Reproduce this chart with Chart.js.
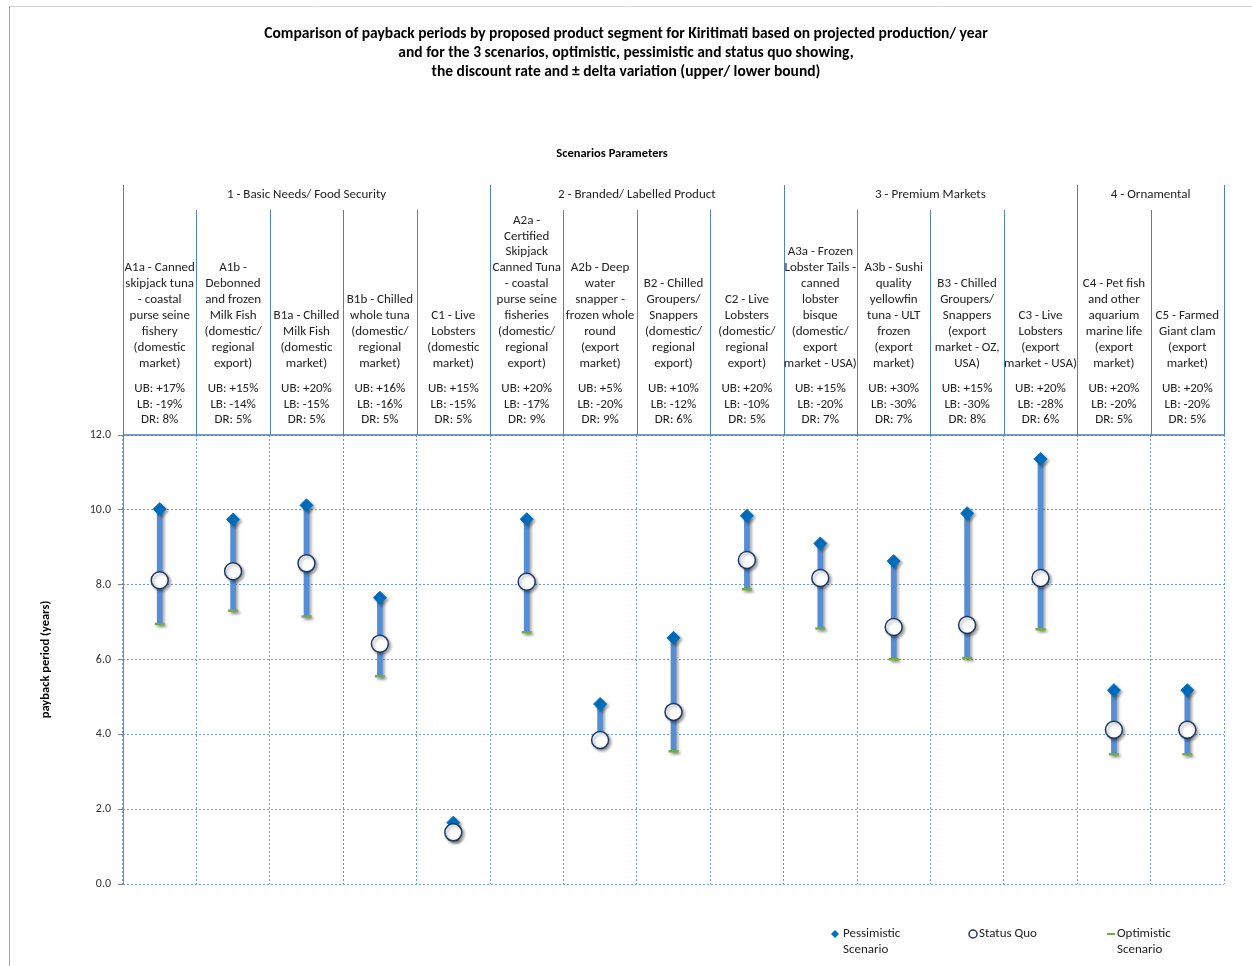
<!DOCTYPE html>
<html>
<head>
<meta charset="utf-8">
<title>Payback periods by product segment - Kiritimati</title>
<script src="https://cdn.jsdelivr.net/npm/chart.js@4.4.1/dist/chart.umd.min.js"></script>
<style>
  html, body { margin: 0; padding: 0; background: #fff; }
  canvas { display: block; }
</style>
</head>
<body>
<canvas id="myChart" width="1252" height="966"></canvas>
<script>
(() => {
  'use strict'

  // product segments (x categories), grouped by scenario family
  const categories = ['A1a', 'A1b', 'B1a', 'B1b', 'C1', 'A2a', 'A2b', 'B2', 'C2', 'A3a', 'A3b', 'B3', 'C3', 'C4', 'C5']
  const categoryText = [
    ['A1a - Canned', 'skipjack tuna', '- coastal', 'purse seine', 'fishery', '(domestic', 'market)'],
    ['A1b -', 'Debonned', 'and frozen', 'Milk Fish', '(domestic/', 'regional', 'export)'],
    ['B1a - Chilled', 'Milk Fish', '(domestic', 'market)'],
    ['B1b - Chilled', 'whole tuna', '(domestic/', 'regional', 'market)'],
    ['C1 - Live', 'Lobsters', '(domestic', 'market)'],
    ['A2a -', 'Certified', 'Skipjack', 'Canned Tuna', '- coastal', 'purse seine', 'fisheries', '(domestic/', 'regional', 'export)'],
    ['A2b - Deep', 'water', 'snapper -', 'frozen whole', 'round', '(export', 'market)'],
    ['B2 - Chilled', 'Groupers/', 'Snappers', '(domestic/', 'regional', 'export)'],
    ['C2 - Live', 'Lobsters', '(domestic/', 'regional', 'export)'],
    ['A3a - Frozen', 'Lobster Tails -', 'canned', 'lobster', 'bisque', '(domestic/', 'export', 'market - USA)'],
    ['A3b - Sushi', 'quality', 'yellowfin', 'tuna - ULT', 'frozen', '(export', 'market)'],
    ['B3 - Chilled', 'Groupers/', 'Snappers', '(export', 'market - OZ,', 'USA)'],
    ['C3 - Live', 'Lobsters', '(export', 'market - USA)'],
    ['C4 - Pet fish', 'and other', 'aquarium', 'marine life', '(export', 'market)'],
    ['C5 - Farmed', 'Giant clam', '(export', 'market)']
  ]
  const upperBound = ['+17%', '+15%', '+20%', '+16%', '+15%', '+20%', '+5%', '+10%', '+20%', '+15%', '+30%', '+15%', '+20%', '+20%', '+20%']
  const lowerBound = ['-19%', '-14%', '-15%', '-16%', '-15%', '-17%', '-20%', '-12%', '-10%', '-20%', '-30%', '-30%', '-28%', '-20%', '-20%']
  const discountRate = ['8%', '5%', '5%', '5%', '5%', '9%', '9%', '6%', '5%', '7%', '7%', '8%', '6%', '5%', '5%']

  const groupNames = ['1 - Basic Needs/ Food Security', '2 - Branded/ Labelled Product', '3 - Premium Markets', '4 - Ornamental']
  const groupSizes = [5, 4, 4, 2]

  // payback period in years
  const pessimistic = [10.02, 9.74, 10.12, 7.65, 1.64, 9.75, 4.81, 6.58, 9.84, 9.10, 8.63, 9.91, 11.36, 5.18, 5.18]
  const statusQuo = [8.12, 8.36, 8.57, 6.42, 1.38, 8.08, 3.85, 4.60, 8.66, 8.18, 6.87, 6.92, 8.18, 4.12, 4.12]
  const optimistic = [6.95, 7.30, 7.15, 5.55, 1.19, 6.73, 3.70, 3.55, 7.88, 6.83, 6.01, 6.04, 6.81, 3.47, 3.47]

  const yTicks = [0, 2, 4, 6, 8, 10, 12]

  const FONT = 'Calibri, Carlito, Lato, "Open Sans", sans-serif'
  const LINE_BLUE = '#4F81BD'
  const GRID_BLUE = '#6A9BDB'
  const RANGE_BLUE = '#558ED5'
  const DIAMOND_BLUE = '#0070C0'
  const CIRCLE_EDGE = '#1F3864'
  const DASH_GREEN = '#70AD47'

  // soft drop shadow under markers and range bars
  const shadowPlugin = {
    id: 'markerShadow',
    beforeDatasetsDraw (chart) {
      const { ctx } = chart
      ctx.save()
      ctx.shadowColor = 'rgba(0, 0, 0, 0.35)'
      ctx.shadowBlur = 3
      ctx.shadowOffsetX = 2
      ctx.shadowOffsetY = 2
    },
    afterDatasetsDraw (chart) {
      chart.ctx.restore()
    }
  }

  // parameter table above the plot, axis line, frame and legend
  const headerPlugin = {
    id: 'scenarioHeader',
    beforeDraw (chart) {
      const { ctx, width, height } = chart
      ctx.save()
      ctx.lineWidth = 1
      ctx.strokeStyle = '#d4d4d4'
      ctx.beginPath()
      ctx.moveTo(9, 6.5)
      ctx.lineTo(width, 6.5)
      ctx.stroke()
      ctx.strokeStyle = '#a6a6a6'
      ctx.beginPath()
      ctx.moveTo(9.5, 6)
      ctx.lineTo(9.5, height)
      ctx.stroke()
      ctx.restore()
    },
    afterDraw (chart) {
      const { ctx, chartArea: area, scales: { x } } = chart
      const half = x.width / categories.length / 2
      const edge = i => i < categories.length
        ? x.getPixelForValue(i) - half
        : x.getPixelForValue(i - 1) + half
      const top = area.top

      ctx.save()

      // y axis line
      ctx.strokeStyle = '#868686'
      ctx.lineWidth = 1
      ctx.beginPath()
      ctx.moveTo(Math.round(area.left) + 0.5, top)
      ctx.lineTo(Math.round(area.left) + 0.5, area.bottom + 1)
      ctx.stroke()

      // table caption
      ctx.fillStyle = '#000'
      ctx.textAlign = 'center'
      ctx.textBaseline = 'middle'
      ctx.font = 'bold 12.5px ' + FONT
      ctx.fillText('Scenarios Parameters', area.right / 2, top - 281)

      // category separators
      ctx.strokeStyle = LINE_BLUE
      ctx.lineWidth = 1
      for (let i = 0; i <= categories.length; i++) {
        const px = Math.round(edge(i)) + 0.5
        ctx.beginPath()
        ctx.moveTo(px, top - 225)
        ctx.lineTo(px, top)
        ctx.stroke()
      }

      // group separators and names
      ctx.fillStyle = '#222'
      ctx.font = '13px ' + FONT
      let start = 0
      groupSizes.forEach((n, g) => {
        const a = edge(start)
        const b = edge(start + n)
        ;[a, b].forEach(px => {
          ctx.beginPath()
          ctx.moveTo(Math.round(px) + 0.5, top - 250)
          ctx.lineTo(Math.round(px) + 0.5, top - 225)
          ctx.stroke()
        })
        ctx.fillText(groupNames[g], (a + b) / 2, top - 240)
        start += n
      })

      // header bottom rule
      ctx.lineWidth = 1.6
      ctx.beginPath()
      ctx.moveTo(area.left, top)
      ctx.lineTo(area.right, top)
      ctx.stroke()

      // segment names and scenario parameters
      const lh = 15.9
      categories.forEach((c, i) => {
        const cx = x.getPixelForValue(i)
        const lines = categoryText[i]
        lines.forEach((t, k) => {
          ctx.fillText(t, cx, top - 71.5 - (lines.length - 1 - k) * lh)
        })
        ctx.fillText('UB: ' + upperBound[i], cx, top - 46.5)
        ctx.fillText('LB: ' + lowerBound[i], cx, top - 30.5)
        ctx.fillText('DR: ' + discountRate[i], cx, top - 15)
      })

      // legend
      const ly = area.bottom + 50
      ctx.textAlign = 'left'
      ctx.font = '13px ' + FONT

      ctx.fillStyle = DIAMOND_BLUE
      ctx.beginPath()
      ctx.moveTo(835, ly - 4)
      ctx.lineTo(839, ly)
      ctx.lineTo(835, ly + 4)
      ctx.lineTo(831, ly)
      ctx.closePath()
      ctx.fill()
      ctx.fillStyle = '#222'
      ctx.fillText('Pessimistic', 843, ly)
      ctx.fillText('Scenario', 843, ly + 16)

      ctx.strokeStyle = CIRCLE_EDGE
      ctx.lineWidth = 1.5
      ctx.beginPath()
      ctx.arc(973, ly, 4, 0, Math.PI * 2)
      ctx.stroke()
      ctx.fillText('Status Quo', 979, ly)

      ctx.strokeStyle = DASH_GREEN
      ctx.lineWidth = 2
      ctx.beginPath()
      ctx.moveTo(1107, ly)
      ctx.lineTo(1115, ly)
      ctx.stroke()
      ctx.fillText('Optimistic', 1117, ly)
      ctx.fillText('Scenario', 1117, ly + 16)

      ctx.restore()
    }
  }

  const ctx = document.getElementById('myChart')
  const myChart = new Chart(ctx, {
    type: 'bar',
    data: {
      labels: categories,
      datasets: [
        {
          type: 'line',
          label: 'Status Quo',
          data: statusQuo,
          showLine: false,
          pointStyle: 'circle',
          pointRadius: 8.5,
          pointHoverRadius: 8.5,
          pointBackgroundColor: '#ffffff',
          pointBorderColor: CIRCLE_EDGE,
          pointBorderWidth: 1.5,
          order: 1
        },
        {
          type: 'line',
          label: 'Pessimistic Scenario',
          data: pessimistic,
          showLine: false,
          pointStyle: 'rectRot',
          pointRadius: 6.5,
          pointHoverRadius: 6.5,
          pointBackgroundColor: DIAMOND_BLUE,
          pointBorderColor: DIAMOND_BLUE,
          pointBorderWidth: 1,
          order: 2
        },
        {
          type: 'line',
          label: 'Optimistic Scenario',
          data: optimistic,
          showLine: false,
          pointStyle: 'line',
          pointRadius: 5,
          pointHoverRadius: 5,
          pointBorderColor: DASH_GREEN,
          pointBorderWidth: 2.5,
          order: 3
        },
        {
          label: 'range',
          data: categories.map((c, i) => [optimistic[i], pessimistic[i]]),
          backgroundColor: RANGE_BLUE,
          barThickness: 5,
          order: 4
        }
      ]
    },
    options: {
      responsive: false,
      animation: false,
      layout: {
        padding: { top: 0, left: 0, right: 0, bottom: 82 }
      },
      scales: {
        x: {
          ticks: { display: false },
          grid: {
            color: GRID_BLUE,
            drawTicks: false,
            offset: true
          },
          border: { display: false, dash: [2, 2] }
        },
        y: {
          min: 0,
          max: 12,
          afterBuildTicks (scale) {
            scale.ticks = yTicks.map(v => ({ value: v }))
          },
          afterFit (scale) {
            scale.width = 123
          },
          ticks: {
            padding: 7,
            color: '#333',
            font: { family: FONT, size: 12 },
            callback: v => v.toFixed(1)
          },
          grid: {
            color: GRID_BLUE,
            tickLength: 5,
            tickColor: '#868686',
            tickBorderDash: [1, 0]
          },
          border: { display: false, dash: [2, 2] },
          title: {
            display: true,
            text: 'payback period (years)',
            color: '#000',
            font: { family: FONT, size: 12.5, weight: 'bold' },
            padding: { top: 38, bottom: 0 }
          }
        },
        // empty margin on the right of the plot
        gutter: {
          type: 'linear',
          position: 'right',
          ticks: { display: false },
          grid: { display: false, drawTicks: false },
          border: { display: false },
          afterFit (scale) {
            scale.width = 28
          }
        }
      },
      plugins: {
        legend: { display: false },
        tooltip: { enabled: false },
        title: {
          display: true,
          text: [
            'Comparison of payback periods by proposed product segment for Kiritimati based on projected production/ year',
            'and for the 3 scenarios, optimistic, pessimistic and status quo showing,',
            'the discount rate and ± delta variation (upper/ lower bound)'
          ],
          color: '#000',
          font: { family: FONT, size: 15.5, weight: 'bold', lineHeight: '19px' },
          padding: { top: 25, bottom: 353 }
        }
      }
    },
    plugins: [shadowPlugin, headerPlugin]
  })
})()
</script>
</body>
</html>
